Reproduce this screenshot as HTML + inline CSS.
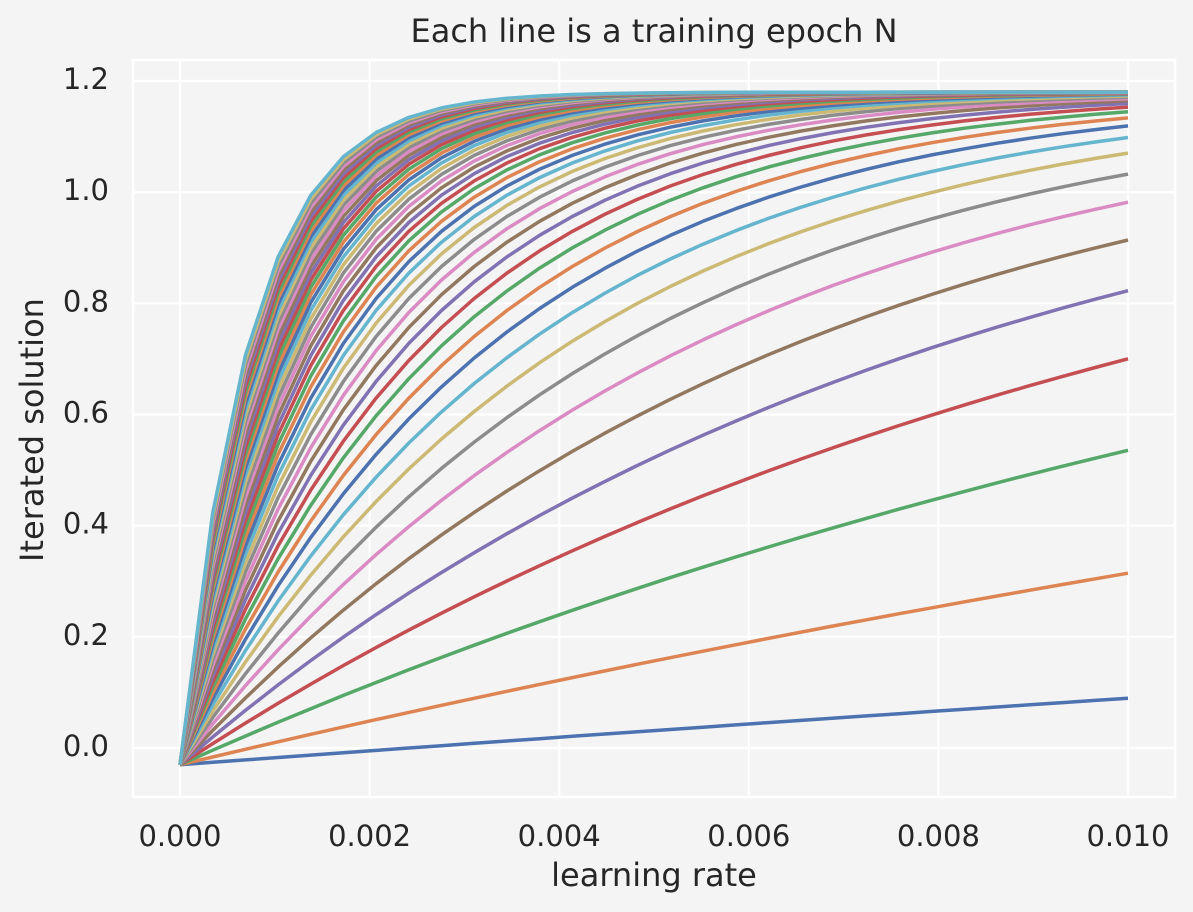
<!DOCTYPE html>
<html><head><style>
body{margin:0;background:#f4f4f4;}
svg{display:block;font-family:"DejaVu Sans","Liberation Sans",sans-serif;}
</style></head><body>
<svg id="s" width="1193" height="912" xmlns="http://www.w3.org/2000/svg">
<rect width="1193" height="912" fill="#f4f4f4"/>
<g id="grid" stroke="#fff" stroke-width="2.2"></g>
<rect x="133" y="60" width="1042" height="737" fill="none" stroke="#fff" stroke-width="2.5"/>
<g id="lines" fill="none" stroke-width="3.5" stroke-linejoin="round"></g>
<g id="labels" fill="#262626" font-size="29"></g>
<text x="654" y="42" text-anchor="middle" font-size="32" fill="#262626">Each line is a training epoch N</text>
<text x="654" y="886" text-anchor="middle" font-size="32" fill="#262626">learning rate</text>
<text transform="translate(43,430) rotate(-90)" text-anchor="middle" font-size="32" fill="#262626">Iterated solution</text>
</svg>
<script>
var X=function(v){return 180+v/0.01*948;};
var Y=function(v){return 748-v/1.2*667;};
var g=document.getElementById('grid'),lb=document.getElementById('labels'),L=document.getElementById('lines');
var ns='http://www.w3.org/2000/svg';
function el(p,t,a,txt){var e=document.createElementNS(ns,t);for(var k in a)e.setAttribute(k,a[k]);if(txt)e.textContent=txt;p.appendChild(e);}
for(var i=0;i<=5;i++){var x=X(i*0.002);el(g,'line',{x1:x,x2:x,y1:60,y2:797});el(lb,'text',{x:x,y:846,'text-anchor':'middle'},(i*0.002).toFixed(3));}
for(var i=0;i<=6;i++){var y=Y(i*0.2);el(g,'line',{x1:133,x2:1175,y1:y,y2:y});el(lb,'text',{x:109,y:y+8,'text-anchor':'end'},(i*0.2).toFixed(1));}
var cols=['#4c72b0','#dd8452','#55a868','#c44e52','#8172b3','#937860','#da8bc3','#8c8c8c','#ccb974','#64b5cd'];
var c=1.18,y0=-0.03;
for(var i=0;i<50;i++){var E=i==0?0.104:(i<=10?0.04+0.295*i:2.99+0.272*(i-10));var k=E/0.01;var d='';
for(var j=0;j<30;j++){var lr=0.01*j/29;var v=c-(c-y0)*Math.exp(-k*lr);d+=(j?'L':'M')+X(lr).toFixed(1)+','+Y(v).toFixed(1);}
el(L,'path',{d:d,stroke:cols[i%10]});}
</script>
</body></html>
